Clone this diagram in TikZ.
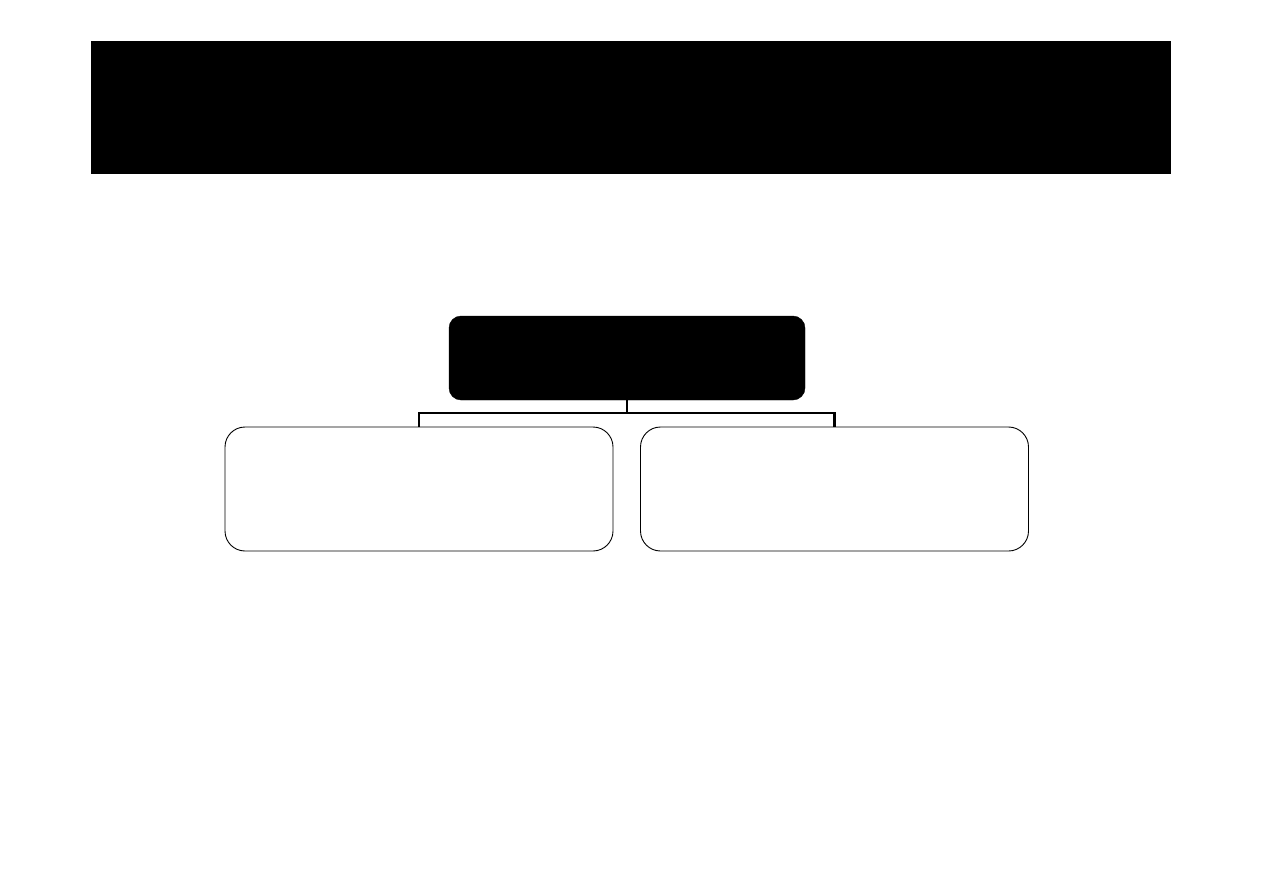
\documentclass[tikz,border=0pt]{standalone}
\begin{document}
\begin{tikzpicture}[x=1pt,y=-1pt,
  banner/.style={fill=black,draw=none,inner sep=0pt,minimum width=1080pt,minimum height=133pt},
  headbox/.style={fill=black,draw=black,rounded corners=12pt,inner sep=0pt,minimum width=356pt,minimum height=84pt},
  childbox/.style={fill=white,draw=black,line width=0.9pt,rounded corners=20pt,inner sep=0pt,minimum width=388pt,minimum height=124pt},
  link/.style={draw=black,line width=2.7pt}]
\useasboundingbox (0,0) rectangle (1263,893);
\fill[white] (0,0) rectangle (1263,893);
\node[banner] (ban) at (631,107.5) {};
\node[headbox] (top) at (627,358) {};
\node[childbox] (left) at (419,489) {};
\node[childbox] (right) at (834.5,489) {};
\coordinate (mid) at (627,413);
\draw[link] (top.south) -- (mid) -| (left.north);
\draw[link] (mid) -| (right.north);
\end{tikzpicture}
\end{document}
